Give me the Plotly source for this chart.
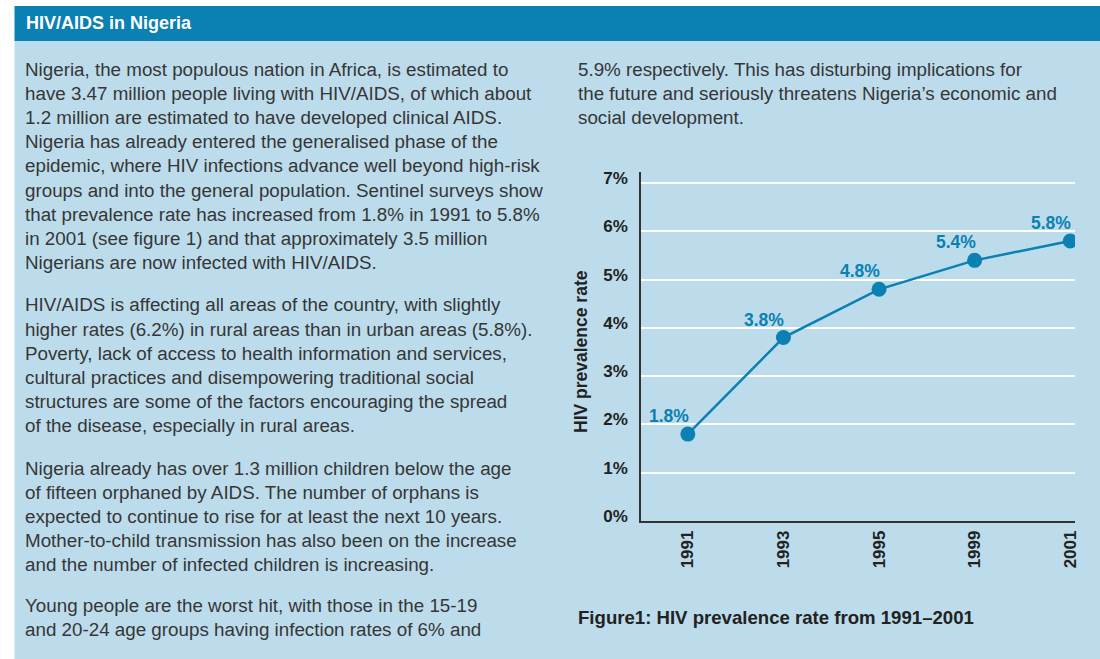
import plotly.graph_objects as go

# ---- data ----
years = ["1991", "1993", "1995", "1999", "2001"]
prevalence = [1.8, 3.8, 4.8, 5.4, 5.8]
point_labels = ["1.8%", "3.8%", "4.8%", "5.4%", "5.8%"]
y_ticks = [0, 1, 2, 3, 4, 5, 6, 7]
y_tick_labels = ["0%", "1%", "2%", "3%", "4%", "5%", "6%", "7%"]

title_text = "HIV/AIDS in Nigeria"
caption_text = "Figure1: HIV prevalence rate from 1991–2001"
y_title = "HIV prevalence rate"

left_paragraphs = [
    [
        "Nigeria, the most populous nation in Africa, is estimated to",
        "have 3.47 million people living with HIV/AIDS, of which about",
        "1.2 million are estimated to have developed clinical AIDS.",
        "Nigeria has already entered the generalised phase of the",
        "epidemic, where HIV infections advance well beyond high-risk",
        "groups and into the general population. Sentinel surveys show",
        "that prevalence rate has increased from 1.8% in 1991 to 5.8%",
        "in 2001 (see figure 1) and that approximately 3.5 million",
        "Nigerians are now infected with HIV/AIDS.",
    ],
    [
        "HIV/AIDS is affecting all areas of the country, with slightly",
        "higher rates (6.2%) in rural areas than in urban areas (5.8%).",
        "Poverty, lack of access to health information and services,",
        "cultural practices and disempowering traditional social",
        "structures are some of the factors encouraging the spread",
        "of the disease, especially in rural areas.",
    ],
    [
        "Nigeria already has over 1.3 million children below the age",
        "of fifteen orphaned by AIDS. The number of orphans is",
        "expected to continue to rise for at least the next 10 years.",
        "Mother-to-child transmission has also been on the increase",
        "and the number of infected children is increasing.",
    ],
    [
        "Young people are the worst hit, with those in the 15-19",
        "and 20-24 age groups having infection rates of 6% and",
    ],
]
right_lines = [
    "5.9% respectively. This has disturbing implications for",
    "the future and seriously threatens Nigeria\u2019s economic and",
    "social development.",
]

# ---- style ----
W, H = 1100, 659
BLUE = "#0b80b2"
BG = "#bcdcec"
TXT = "#363636"
DARK = "#222222"
FONT = "Liberation Sans, Arial, sans-serif"


def px(x):
    return x / W


def py(y):
    return 1 - y / H


fig = go.Figure()
fig.add_trace(
    go.Scatter(
        x=years,
        y=prevalence,
        mode="lines+markers",
        line=dict(color=BLUE, width=2.5),
        marker=dict(color=BLUE, size=15),
        hoverinfo="skip",
        showlegend=False,
    )
)

annotations = []
for i, (v, lab) in enumerate(zip(prevalence, point_labels)):
    annotations.append(
        dict(
            x=i, y=v, xref="x", yref="y", text=lab, showarrow=False,
            xshift=-19, yshift=18,
            font=dict(family=FONT, size=17.5, color=BLUE, weight="bold"),
        )
    )

annotations.append(
    dict(
        x=px(24), y=py(23), xref="paper", yref="paper", text=title_text,
        showarrow=False, xanchor="left", yanchor="middle",
        font=dict(family=FONT, size=18, color="white", weight="bold"),
    )
)

BODY = 18.8
line_step = 24.2
starts = [69, 305, 468, 605]
for para, y0 in zip(left_paragraphs, starts):
    for i, line in enumerate(para):
        annotations.append(
            dict(
                x=px(23), y=py(y0 + i * line_step), xref="paper", yref="paper",
                text=line, showarrow=False, xanchor="left", yanchor="middle",
                font=dict(family=FONT, size=BODY, color=TXT),
            )
        )
for i, line in enumerate(right_lines):
    annotations.append(
        dict(
            x=px(576), y=py(69 + i * line_step), xref="paper", yref="paper",
            text=line, showarrow=False, xanchor="left", yanchor="middle",
            font=dict(family=FONT, size=BODY, color=TXT),
        )
    )

annotations.append(
    dict(
        x=px(581), y=py(352), xref="paper", yref="paper", text=y_title,
        showarrow=False, textangle=-90, xanchor="center", yanchor="middle",
        font=dict(family=FONT, size=17.5, color=DARK, weight="bold"),
    )
)
annotations.append(
    dict(
        x=px(576), y=py(617), xref="paper", yref="paper", text=caption_text,
        showarrow=False, xanchor="left", yanchor="middle",
        font=dict(family=FONT, size=18.6, color=DARK, weight="bold"),
    )
)

shapes = [
    dict(type="rect", xref="paper", yref="paper", x0=px(14.5), x1=1.02,
         y0=-0.05, y1=py(41), fillcolor=BG, line=dict(width=0), layer="below"),
    dict(type="rect", xref="paper", yref="paper", x0=px(14.5), x1=1.02,
         y0=py(41), y1=py(6), fillcolor=BLUE, line=dict(width=0), layer="below"),
]

fig.update_layout(
    width=W, height=H,
    margin=dict(l=0, r=0, t=0, b=0, pad=0, autoexpand=False),
    paper_bgcolor="white",
    plot_bgcolor="rgba(0,0,0,0)",
    showlegend=False,
    annotations=annotations,
    shapes=shapes,
    xaxis=dict(
        domain=[px(641), px(1075)],
        type="category",
        range=[-0.49, 4.05],
        automargin=False,
        showgrid=False,
        zeroline=False,
        showline=True, linecolor="#333333", linewidth=1.5,
        ticks="", tickangle=-90,
        tickfont=dict(family=FONT, size=17, color=DARK, weight="bold"),
        ticklabelstandoff=1,
        fixedrange=True,
    ),
    yaxis=dict(
        domain=[py(521), py(172)],
        range=[0, 7.23],
        automargin=False,
        tickvals=y_ticks, ticktext=y_tick_labels,
        showgrid=True, gridcolor="white", gridwidth=1.5,
        zeroline=False,
        showline=True, linecolor="#333333", linewidth=1.5,
        ticks="", ticklabelstandoff=8, ticklabelshift=-5,
        tickfont=dict(family=FONT, size=17, color=DARK, weight="bold"),
        fixedrange=True,
    ),
)

fig.write_html(
    "out.html",
    config={"displayModeBar": False},
    post_script="document.body.style.margin='0';document.body.style.padding='0';",
)
